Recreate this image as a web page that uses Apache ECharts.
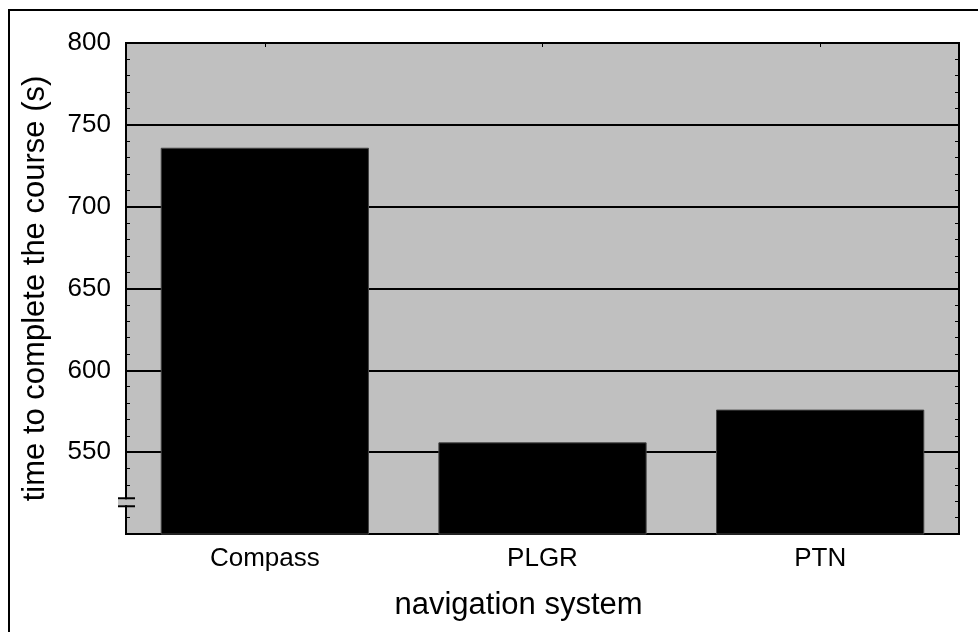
<!DOCTYPE html>
<html><head><meta charset="utf-8">
<script src="https://cdn.jsdelivr.net/npm/echarts@6/dist/echarts.min.js"></script>
<style>html,body{margin:0;padding:0;background:#fff}#c{width:978px;height:632px}</style>
</head><body><div id="c"></div>
<script>
const categories = ['Compass', 'PLGR', 'PTN'];
const times = [736, 556, 576];
const yTicks = [550, 600, 650, 700, 750, 800];
const yMin = 500, yMax = 800, yStep = 50;
const breakValue = 520;

const chart = echarts.init(document.getElementById('c'));
const font = 'Liberation Sans, Arial, sans-serif';
chart.setOption({
  animation: false,
  grid: {left: 126, top: 43, right: 19, bottom: 98, show: true,
    backgroundColor: '#c0c0c0', borderColor: '#000', borderWidth: 2},
  xAxis: [{
    type: 'category', data: categories, position: 'bottom',
    name: 'navigation system', nameLocation: 'middle', nameGap: 56,
    nameTextStyle: {fontFamily: font, fontSize: 31, color: '#000', padding: [0, 48, 0, 0]},
    axisLine: {show: true, lineStyle: {color: '#000', width: 2}},
    axisTick: {show: true, inside: true, alignWithLabel: true, length: 4, lineStyle: {color: '#000'}},
    axisLabel: {fontFamily: font, fontSize: 26, color: '#000', margin: 12}
  }, {
    type: 'category', data: categories, position: 'top',
    axisLine: {show: true, lineStyle: {color: '#000', width: 2}},
    axisTick: {show: true, inside: true, alignWithLabel: true, length: 4, lineStyle: {color: '#000'}},
    axisLabel: {show: false}
  }],
  yAxis: [{
    type: 'value', min: yMin, max: yMax, interval: yStep, position: 'left',
    name: 'time to complete the course (s)', nameLocation: 'middle', nameGap: 75,
    nameTextStyle: {fontFamily: font, fontSize: 31, color: '#000'},
    axisLine: {show: true, lineStyle: {color: '#000', width: 2}},
    axisTick: {show: true, inside: true, length: 4, lineStyle: {color: '#000'}},
    minorTick: {show: true, splitNumber: 5, length: 4, lineStyle: {color: '#000'}},
    axisLabel: {fontFamily: font, fontSize: 26, color: '#000', margin: 15,
      formatter: v => yTicks.includes(v) ? String(v) : ''},
    splitLine: {show: true, lineStyle: {color: '#000', width: 2}}
  }, {
    type: 'value', min: yMin, max: yMax, interval: yStep, position: 'right',
    axisLine: {show: true, lineStyle: {color: '#000', width: 2}},
    axisTick: {show: true, inside: true, length: 4, lineStyle: {color: '#000'}},
    minorTick: {show: true, splitNumber: 5, length: 4, lineStyle: {color: '#000'}},
    axisLabel: {show: false}, splitLine: {show: false}
  }],
  series: [{
    type: 'bar', data: times, barWidth: '75%', z: 5,
    itemStyle: {color: '#000', borderColor: '#444', borderWidth: 1}
  }]
});

const yb = chart.convertToPixel({yAxisIndex: 0}, breakValue);
const gridLeft = 126;
chart.setOption({graphic: [
  {type: 'rect', shape: {x: 9, y: 10, width: 1000, height: 700},
    style: {fill: 'none', stroke: '#000', lineWidth: 2}, silent: true},
  {type: 'rect', shape: {x: gridLeft - 8, y: yb - 2, width: 16, height: 6},
    style: {fill: '#c0c0c0'}, z: 100},
  {type: 'line', shape: {x1: gridLeft - 8, y1: yb - 3, x2: gridLeft + 9, y2: yb - 3},
    style: {stroke: '#000', lineWidth: 2}, z: 101},
  {type: 'line', shape: {x1: gridLeft - 8, y1: yb + 5, x2: gridLeft + 9, y2: yb + 5},
    style: {stroke: '#000', lineWidth: 2}, z: 101}
]});
</script></body></html>
